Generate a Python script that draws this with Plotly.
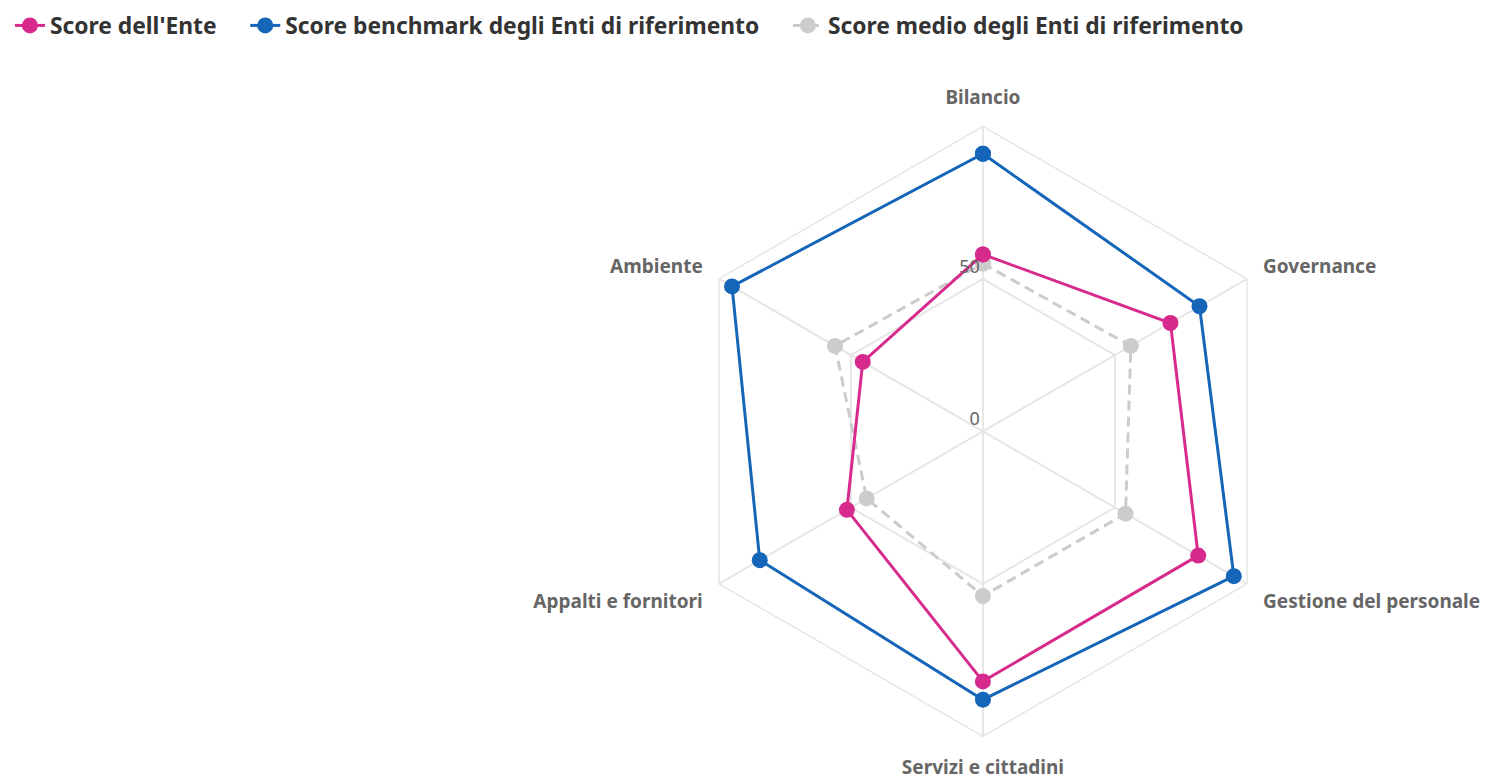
import plotly.graph_objects as go

# categories, clockwise from the top
categorie = ['Bilancio', 'Governance', 'Gestione del personale',
             'Servizi e cittadini', 'Appalti e fornitori', 'Ambiente']

score_ente = [58, 71, 81.5, 82, 51.5, 45.5]
score_benchmark = [91, 82, 95, 88, 84.5, 95]
score_medio = [55, 56, 54, 54, 44, 56]

radial_ticks = [0, 50]
# blank second line lifts each label slightly above its ring
radial_labels = [f'{v}<br> ' for v in radial_ticks]

# non-breaking spaces widen the gap between legend entries
pad = '\u00a0' * 4


def closed(values):
    return values + values[:1]


fig = go.Figure()

# medio first so that it sits behind the other two
fig.add_trace(go.Scatterpolar(
    r=closed(score_medio),
    theta=closed(categorie),
    mode='lines+markers',
    name='Score medio degli Enti di riferimento',
    legendrank=3,
    line=dict(color='#cccccc', width=3, dash='10px,6px'),
    marker=dict(size=16, color='#cccccc')
))

fig.add_trace(go.Scatterpolar(
    r=closed(score_ente),
    theta=closed(categorie),
    mode='lines+markers',
    name="Score dell'Ente" + pad,
    legendrank=1,
    line=dict(color='#d62a8c', width=3),
    marker=dict(size=16, color='#d62a8c')
))

fig.add_trace(go.Scatterpolar(
    r=closed(score_benchmark),
    theta=closed(categorie),
    mode='lines+markers',
    name='Score benchmark degli Enti di riferimento' + pad,
    legendrank=2,
    line=dict(color='#1565b8', width=3),
    marker=dict(size=16, color='#1565b8')
))

fig.update_layout(
    width=1489,
    height=782,
    template='plotly_white',
    paper_bgcolor='white',
    margin=dict(l=0, r=0, t=0, b=0, autoexpand=False),
    font=dict(family='Noto Sans', color='#666666'),
    legend=dict(
        orientation='h',
        x=0.0013, y=1.005, xanchor='left', yanchor='top',
        font=dict(size=22.8, color='#333333', weight='bold'),
        itemwidth=30,
    ),
    polar=dict(
        domain=dict(x=[0.4499, 0.8596], y=[0.0687, 0.8487]),
        gridshape='linear',
        bgcolor='white',
        radialaxis=dict(
            range=[0, 100],
            tickvals=radial_ticks,
            ticktext=radial_labels,
            angle=90,
            tickangle=90,
            side='counterclockwise',
            showline=False,
            gridcolor='#e6e6e6',
            gridwidth=1.5,
            ticks='',
            tickfont=dict(size=18, color='#666666'),
        ),
        angularaxis=dict(
            rotation=90,
            direction='clockwise',
            categoryarray=categorie,
            showline=True,
            linecolor='#e6e6e6',
            linewidth=1.5,
            gridcolor='#e6e6e6',
            gridwidth=1.5,
            ticks='outside',
            ticklen=14,
            tickcolor='rgba(0,0,0,0)',
            tickfont=dict(size=19, color='#666666', weight='bold'),
        ),
    ),
)

fig.write_html("out.html")
